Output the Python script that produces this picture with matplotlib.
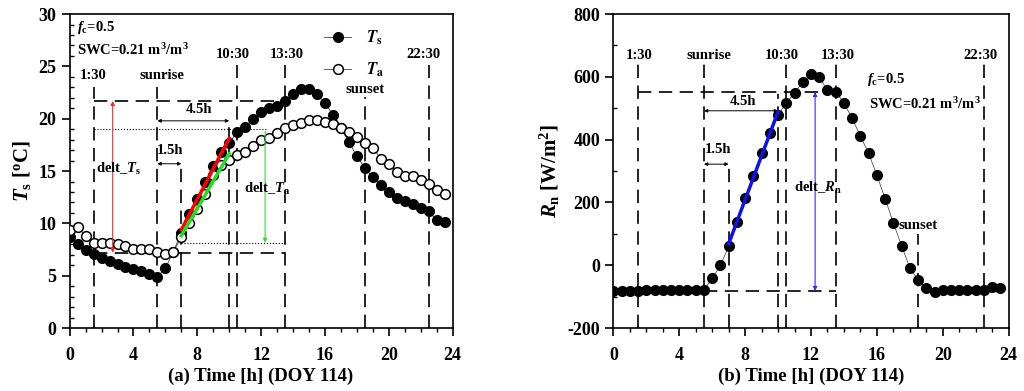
import numpy as np
import matplotlib
matplotlib.use("Agg")
import matplotlib.pyplot as plt

plt.rcParams['font.family'] = 'Liberation Serif'
plt.rcParams['font.weight'] = 'bold'
plt.rcParams['axes.labelweight'] = 'bold'
plt.rcParams['axes.unicode_minus'] = False
plt.rcParams['mathtext.fontset'] = 'custom'
plt.rcParams['mathtext.rm'] = 'Liberation Serif:bold'
plt.rcParams['mathtext.it'] = 'Liberation Serif:bold:italic'
plt.rcParams['mathtext.bf'] = 'Liberation Serif:bold'

# half-hourly time of day, DOY 114
hours = np.arange(0, 24, 0.5)

# surface temperature (filled) and air temperature (open), deg C
ts = [8.7, 8.0, 7.5, 7.1, 6.7, 6.4, 6.1, 5.85, 5.6, 5.45, 5.2, 4.9,
      5.7, 7.3, 9.1, 10.9, 12.3, 14.0, 15.5, 16.8, 17.7, 18.7, 19.2, 20.0,
      20.6, 21.0, 21.2, 21.7, 22.4, 22.8, 22.8, 22.4, 21.5, 20.4, 19.1, 17.8,
      16.4, 15.3, 14.4, 13.7, 13.0, 12.4, 12.1, 11.9, 11.5, 11.2, 10.3, 10.1]
ta = [9.4, 9.7, 8.8, 8.15, 8.15, 8.15, 8.0, 7.8, 7.6, 7.6, 7.55, 7.3,
      7.1, 7.3, 8.7, 10.0, 11.4, 12.8, 14.6, 15.6, 16.05, 16.5, 16.85, 17.4,
      17.95, 18.2, 18.65, 19.1, 19.4, 19.6, 19.85, 19.85, 19.7, 19.5, 19.1, 18.75,
      18.3, 17.7, 17.2, 16.2, 15.7, 14.9, 14.5, 14.5, 14.1, 13.8, 13.2, 12.8]

# net radiation, W/m2
rn = [-83, -82, -83, -83, -80, -80, -80, -80, -79, -79, -79, -79,
      -42, 0, 60, 137, 214, 284, 358, 420, 478, 517, 549, 584,
      609, 598, 558, 552, 517, 468, 411, 356, 287, 212, 135, 62,
      -8, -47, -74, -84, -79, -79, -79, -79, -80, -79, -70, -73]

# key times [h]
t_130, t_sunrise, t_fit0, t_fit1, t_1030, t_1330, t_sunset, t_2230 = \
    1.5, 5.5, 7.0, 10.0, 10.5, 13.5, 18.5, 22.5

hours = np.array(hours)
ts = np.array(ts)
ta = np.array(ta)
rn = np.array(rn)

dash = (0, (8, 4.5))
fig = plt.figure(figsize=(10.24, 3.91), dpi=100)
ax1 = fig.add_axes([0.068, 0.161, 0.374, 0.803])
ax2 = fig.add_axes([0.599, 0.161, 0.386, 0.803])


def fit_line(ax, t, y, color):
    m = (t >= t_fit0) & (t <= t_fit1)
    p = np.polyfit(t[m], y[m], 1)
    xx = np.array([t_fit0, t_fit1])
    ax.plot(xx, np.polyval(p, xx), color=color, lw=2.5, zorder=5)


def vline(ax, x, y0, y1):
    ax.plot([x, x], [y0, y1], color='black', ls=dash, lw=1.2, zorder=1)


def hline(ax, y, x0, x1):
    ax.plot([x0, x1], [y, y], color='black', ls=dash, lw=1.2, zorder=1)


def style(ax):
    ax.set_xlim(0, 24)
    ax.set_xticks(np.arange(0, 25, 4))
    ax.set_xticks(np.arange(0, 25, 1), minor=True)
    ax.tick_params(axis='x', which='major', direction='out', length=6, width=1.2, labelsize=13, pad=8)
    ax.tick_params(axis='x', which='minor', direction='out', length=3, width=1)
    ax.tick_params(axis='y', which='major', direction='out', length=6, width=1.2, labelsize=13)
    ax.tick_params(axis='y', which='minor', direction='in', length=3, width=1)
    for s in ax.spines.values():
        s.set_linewidth(1.2)


# ---------------- (a) temperatures ----------------
ax1.plot(hours, ts, '-o', color='#444444', mfc='black', mec='black', ms=7, lw=0.6,
         label=r'$T_{\rm s}$', zorder=3)
ax1.plot(hours, ta, '-o', color='#444444', mfc='white', mec='black', ms=7, mew=1.1, lw=0.6,
         label=r'$T_{\rm a}$', zorder=3)
fit_line(ax1, hours, ts, 'red')
fit_line(ax1, hours, ta, '#22dd22')

for x, top in [(t_130, 23.0), (t_sunrise, 23.0), (t_fit0, 15.7), (t_fit1, 19.2),
               (t_1030, 25.1), (t_1330, 25.1), (t_sunset, 22.1), (t_2230, 25.1)]:
    vline(ax1, x, 0, top)
hline(ax1, 21.7, t_130, t_1330)
hline(ax1, 7.2, t_130, t_1330)
ax1.plot([t_130, 12.3], [19.0, 19.0], color='black', ls=':', lw=0.8, zorder=1)
ax1.plot([t_fit0, t_1330], [8.15, 8.15], color='black', ls=':', lw=0.8, zorder=1)

ax1.annotate('', xy=(2.7, 21.7), xytext=(2.7, 7.2),
             arrowprops=dict(arrowstyle='<|-|>', color='#e03030', lw=0.8,
                             mutation_scale=6, shrinkA=0, shrinkB=0))
ax1.annotate('', xy=(12.25, 8.15), xytext=(12.25, 18.8),
             arrowprops=dict(arrowstyle='-|>', color='#33dd33', lw=0.8,
                             mutation_scale=6, shrinkA=0, shrinkB=0))
ax1.annotate('', xy=(t_fit1, 19.8), xytext=(t_sunrise, 19.8),
             arrowprops=dict(arrowstyle='<|-|>', color='black', lw=0.7,
                             mutation_scale=5, shrinkA=0, shrinkB=0))
ax1.annotate('', xy=(t_fit0, 15.7), xytext=(t_sunrise, 15.7),
             arrowprops=dict(arrowstyle='<|-|>', color='black', lw=0.7,
                             mutation_scale=5, shrinkA=0, shrinkB=0))

fs = 10.5
ax1.text(0.45, 28.7, r'$f_{\rm c}$=0.5', fontsize=fs, va='center')
ax1.text(0.45, 26.6, r'SWC=0.21 m$^3$/m$^3$', fontsize=fs, va='center')
ax1.text(1.5, 24.1, '1:30', fontsize=fs, ha='center', va='center')
ax1.text(5.8, 24.1, 'sunrise', fontsize=fs, ha='center', va='center')
ax1.text(10.2, 26.1, '10:30', fontsize=fs, ha='center', va='center')
ax1.text(13.6, 26.1, '13:30', fontsize=fs, ha='center', va='center')
ax1.text(22.2, 26.1, '22:30', fontsize=fs, ha='center', va='center')
ax1.text(18.5, 22.8, 'sunset', fontsize=fs, ha='center', va='center')
ax1.text(8.1, 20.9, '4.5h', fontsize=fs, ha='center', va='center')
ax1.text(6.3, 17.0, '1.5h', fontsize=fs, ha='center', va='center')
ax1.text(3.1, 15.2, r'delt_$T_{\rm s}$', fontsize=fs, ha='center', va='center')
ax1.text(12.4, 13.3, r'delt_$T_{\rm a}$', fontsize=fs, ha='center', va='center')

leg = ax1.legend(loc='upper right', bbox_to_anchor=(0.86, 1.0), frameon=False,
                 handlelength=1.6, handletextpad=0.9, labelspacing=0.8,
                 prop={'family': 'Liberation Serif', 'weight': 'normal', 'size': 12})
for t in leg.get_texts():
    t.set_math_fontfamily('stix')

style(ax1)
ax1.set_ylim(0, 30)
ax1.set_yticks(np.arange(0, 31, 5))
ax1.set_yticks(np.arange(0, 31, 1), minor=True)
ax1.set_ylabel(r'$T_{\rm s}$ [$^{\rm o}$C]', fontsize=15, labelpad=4)
ax1.set_xlabel('(a) Time [h] (DOY 114)', fontsize=13.5, labelpad=2)

# ---------------- (b) net radiation ----------------
ax2.plot(hours, rn, '-o', color='#555555', mfc='black', mec='black', ms=7, lw=0.6, zorder=3)
fit_line(ax2, hours, rn, '#1010ee')

for x, top in [(t_130, 643), (t_sunrise, 643), (t_fit0, 322), (t_fit1, 547),
               (t_1030, 643), (t_1330, 643), (t_sunset, 100), (t_2230, 643)]:
    vline(ax2, x, -200, top)
hline(ax2, 552, t_130, t_1330)
hline(ax2, -82, t_sunrise, t_1330)

ax2.annotate('', xy=(12.25, 552), xytext=(12.25, -82),
             arrowprops=dict(arrowstyle='<|-|>', color='#3030ee', lw=0.8,
                             mutation_scale=6, shrinkA=0, shrinkB=0))
ax2.annotate('', xy=(t_fit1, 492), xytext=(t_sunrise, 492),
             arrowprops=dict(arrowstyle='<|-|>', color='black', lw=0.7,
                             mutation_scale=5, shrinkA=0, shrinkB=0))
ax2.annotate('', xy=(t_fit0, 322), xytext=(t_sunrise, 322),
             arrowprops=dict(arrowstyle='<|-|>', color='black', lw=0.7,
                             mutation_scale=5, shrinkA=0, shrinkB=0))

ax2.text(15.4, 592, r'$f_{\rm c}$=0.5', fontsize=fs, va='center')
ax2.text(15.5, 515, r'SWC=0.21 m$^3$/m$^3$', fontsize=fs, va='center')
ax2.text(1.55, 669, '1:30', fontsize=fs, ha='center', va='center')
ax2.text(5.8, 669, 'sunrise', fontsize=fs, ha='center', va='center')
ax2.text(10.2, 669, '10:30', fontsize=fs, ha='center', va='center')
ax2.text(13.6, 669, '13:30', fontsize=fs, ha='center', va='center')
ax2.text(22.3, 669, '22:30', fontsize=fs, ha='center', va='center')
ax2.text(17.3, 126, 'sunset', fontsize=fs, ha='left', va='center')
ax2.text(7.85, 521, '4.5h', fontsize=fs, ha='center', va='center')
ax2.text(6.35, 370, '1.5h', fontsize=fs, ha='center', va='center')
ax2.text(12.4, 245, r'delt_$R_{\rm n}$', fontsize=fs, ha='center', va='center')

style(ax2)
ax2.set_ylim(-200, 800)
ax2.set_yticks(np.arange(-200, 801, 200))
ax2.set_yticks(np.arange(-200, 801, 100), minor=True)
ax2.set_ylabel(r'$R_{\bf n}$ [W/m$^2$]', fontsize=15, labelpad=4)
ax2.set_xlabel('(b) Time [h] (DOY 114)', fontsize=13.5, labelpad=2)

fig.savefig('out.png', dpi=100)
